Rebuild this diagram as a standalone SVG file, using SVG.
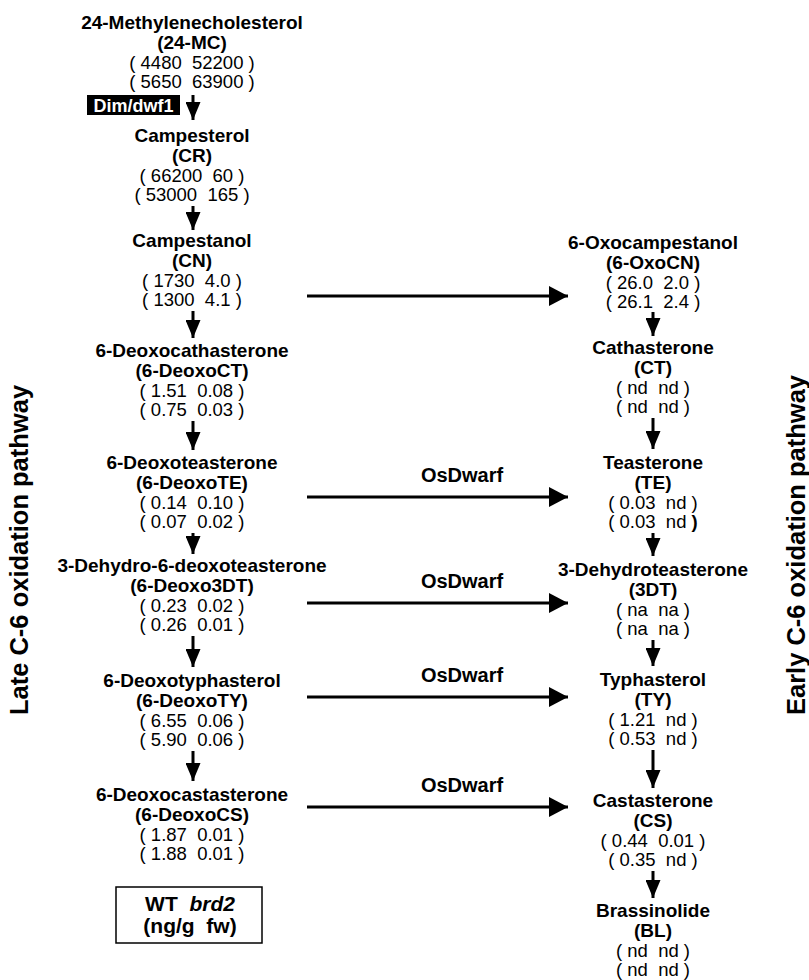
<svg xmlns="http://www.w3.org/2000/svg" width="809" height="980" viewBox="0 0 809 980">
<style>
text{font-family:"Liberation Sans",Arial,sans-serif;fill:#000;text-anchor:middle;white-space:pre}
.n{font-weight:bold;font-size:19px}
.v{font-size:18.5px}
.lab{font-weight:bold;font-size:20px}
.leg{font-weight:bold;font-size:21px}
.side{font-weight:bold;font-size:25.5px}
.c line{stroke:#000;stroke-width:3}
</style>
<defs>
<marker id="ah" markerUnits="userSpaceOnUse" markerWidth="20" markerHeight="20" viewBox="0 0 20 20" refX="19" refY="10" orient="auto">
<path d="M0,0 L19,10 L0,20 Z" fill="#000"/>
</marker>
<marker id="av" markerUnits="userSpaceOnUse" markerWidth="19" markerHeight="15" viewBox="0 0 19 15" refX="18" refY="7.5" orient="auto">
<path d="M0,0 L18,7.5 L0,15 Z" fill="#000"/>
</marker>
</defs>

<g id="MC"><text class="n" x="192" y="29">24-Methylenecholesterol</text><text class="n" x="192" y="49">(24-MC)</text><text class="v" x="192" y="69">( 4480  52200 )</text><text class="v" x="192" y="88">( 5650  63900 )</text></g>
<g id="dim"><rect x="87" y="95" width="93" height="20" fill="#000"/><text x="133.5" y="111.5" style="font-weight:bold;font-size:18px;fill:#fff">Dim/dwf1</text></g>
<g id="CR"><text class="n" x="192" y="142">Campesterol</text><text class="n" x="192" y="162">(CR)</text><text class="v" x="192" y="182">( 66200  60 )</text><text class="v" x="192" y="201">( 53000  165 )</text></g>
<g id="CN"><text class="n" x="192" y="247">Campestanol</text><text class="n" x="192" y="267">(CN)</text><text class="v" x="192" y="287">( 1730  4.0 )</text><text class="v" x="192" y="306">( 1300  4.1 )</text></g>
<g id="DeoxoCT"><text class="n" x="192" y="357">6-Deoxocathasterone</text><text class="n" x="192" y="377">(6-DeoxoCT)</text><text class="v" x="192" y="397">( 1.51  0.08 )</text><text class="v" x="192" y="416">( 0.75  0.03 )</text></g>
<g id="DeoxoTE"><text class="n" x="192" y="469">6-Deoxoteasterone</text><text class="n" x="192" y="489">(6-DeoxoTE)</text><text class="v" x="192" y="509">( 0.14  0.10 )</text><text class="v" x="192" y="528">( 0.07  0.02 )</text></g>
<g id="Deoxo3DT"><text class="n" x="192" y="572">3-Dehydro-6-deoxoteasterone</text><text class="n" x="192" y="592">(6-Deoxo3DT)</text><text class="v" x="192" y="612">( 0.23  0.02 )</text><text class="v" x="192" y="631">( 0.26  0.01 )</text></g>
<g id="DeoxoTY"><text class="n" x="192" y="687">6-Deoxotyphasterol</text><text class="n" x="192" y="707">(6-DeoxoTY)</text><text class="v" x="192" y="727">( 6.55  0.06 )</text><text class="v" x="192" y="746">( 5.90  0.06 )</text></g>
<g id="DeoxoCS"><text class="n" x="192" y="801">6-Deoxocastasterone</text><text class="n" x="192" y="821">(6-DeoxoCS)</text><text class="v" x="192" y="841">( 1.87  0.01 )</text><text class="v" x="192" y="860">( 1.88  0.01 )</text></g>
<g id="legend"><rect x="116" y="887" width="146" height="56" fill="none" stroke="#000" stroke-width="1.5"/><text class="leg" x="190" y="911">WT  <tspan font-style="italic">brd2</tspan></text><text class="leg" x="190" y="933">(ng/g  fw)</text></g>

<g id="OxoCN"><text class="n" x="653" y="249">6-Oxocampestanol</text><text class="n" x="653" y="269">(6-OxoCN)</text><text class="v" x="653" y="289">( 26.0  2.0 )</text><text class="v" x="653" y="308">( 26.1  2.4 )</text></g>
<g id="CT"><text class="n" x="653" y="354">Cathasterone</text><text class="n" x="653" y="374">(CT)</text><text class="v" x="653" y="394">( nd  nd )</text><text class="v" x="653" y="413">( nd  nd )</text></g>
<g id="TE"><text class="n" x="653" y="469">Teasterone</text><text class="n" x="653" y="489">(TE)</text><text class="v" x="653" y="509">( 0.03  nd )</text><text class="v" x="653" y="528">( 0.03  nd <tspan font-weight="bold">)</tspan></text></g>
<g id="DT3"><text class="n" x="653" y="576">3-Dehydroteasterone</text><text class="n" x="653" y="596">(3DT)</text><text class="v" x="653" y="616">( na  na )</text><text class="v" x="653" y="635">( na  na )</text></g>
<g id="TY"><text class="n" x="653" y="686">Typhasterol</text><text class="n" x="653" y="706">(TY)</text><text class="v" x="653" y="726">( 1.21  nd )</text><text class="v" x="653" y="745">( 0.53  nd )</text></g>
<g id="CS"><text class="n" x="653" y="807">Castasterone</text><text class="n" x="653" y="827">(CS)</text><text class="v" x="653" y="847">( 0.44  0.01 )</text><text class="v" x="653" y="866">( 0.35  nd )</text></g>
<g id="BL"><text class="n" x="653" y="917">Brassinolide</text><text class="n" x="653" y="937">(BL)</text><text class="v" x="653" y="957">( nd  nd )</text><text class="v" x="653" y="976">( nd  nd )</text></g>

<g id="side-labels">
<text class="side" transform="translate(28,550) rotate(-90)">Late C-6 oxidation pathway</text>
<text class="side" transform="translate(805,545) rotate(-90)">Early C-6 oxidation pathway</text>
</g>

<g id="enzyme-labels">
<text class="lab" x="462" y="482">OsDwarf</text>
<text class="lab" x="462" y="588">OsDwarf</text>
<text class="lab" x="462" y="682">OsDwarf</text>
<text class="lab" x="462" y="792">OsDwarf</text>
</g>

<g id="connectors" class="c">
<line x1="193" y1="95" x2="193" y2="120" marker-end="url(#av)"/>
<line x1="193" y1="206" x2="193" y2="230" marker-end="url(#av)"/>
<line x1="193" y1="311" x2="193" y2="338" marker-end="url(#av)"/>
<line x1="193" y1="421" x2="193" y2="450" marker-end="url(#av)"/>
<line x1="193" y1="533" x2="193" y2="554" marker-end="url(#av)"/>
<line x1="193" y1="636" x2="193" y2="667" marker-end="url(#av)"/>
<line x1="193" y1="751" x2="193" y2="781" marker-end="url(#av)"/>
<line x1="653" y1="312" x2="653" y2="336" marker-end="url(#av)"/>
<line x1="653" y1="418" x2="653" y2="449" marker-end="url(#av)"/>
<line x1="653" y1="533" x2="653" y2="556" marker-end="url(#av)"/>
<line x1="653" y1="640" x2="653" y2="666" marker-end="url(#av)"/>
<line x1="653" y1="750" x2="653" y2="788" marker-end="url(#av)"/>
<line x1="653" y1="871" x2="653" y2="898" marker-end="url(#av)"/>
<line x1="307" y1="296" x2="568" y2="296" marker-end="url(#ah)"/>
<line x1="307" y1="497" x2="568" y2="497" marker-end="url(#ah)"/>
<line x1="307" y1="603" x2="568" y2="603" marker-end="url(#ah)"/>
<line x1="307" y1="697" x2="568" y2="697" marker-end="url(#ah)"/>
<line x1="307" y1="807" x2="568" y2="807" marker-end="url(#ah)"/>
</g>
</svg>
